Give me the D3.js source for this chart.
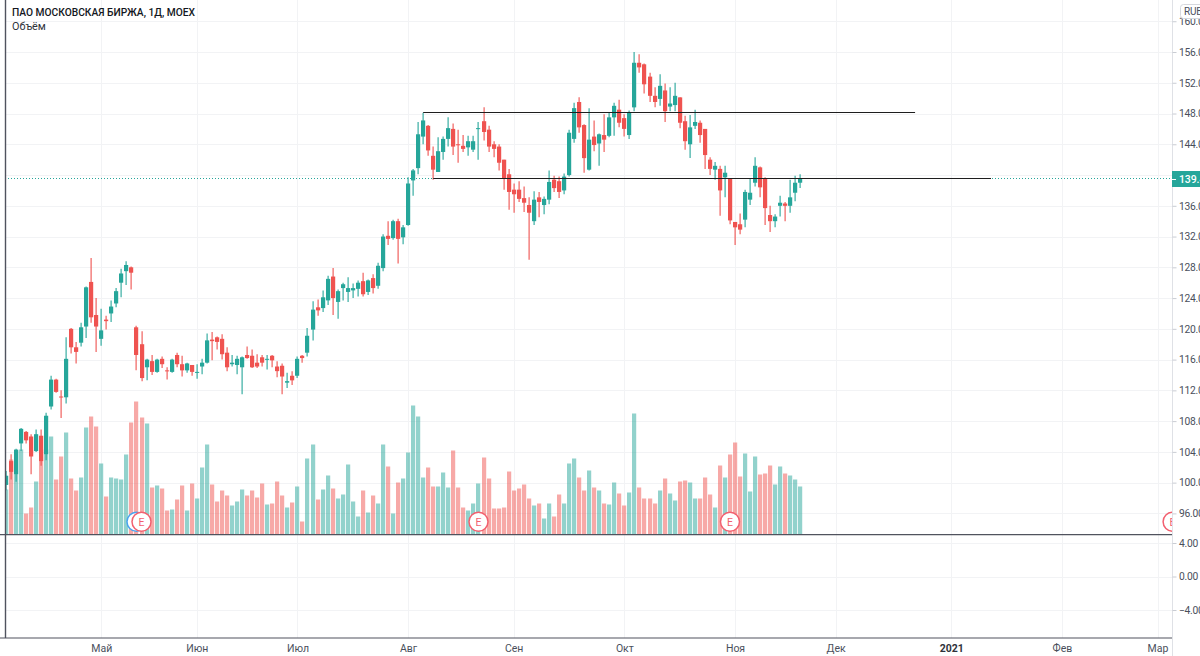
<!DOCTYPE html>
<html><head><meta charset="utf-8">
<script src="https://cdnjs.cloudflare.com/ajax/libs/d3/7.8.5/d3.min.js"></script>
<style>
html,body{margin:0;padding:0;background:#fff;overflow:hidden}
svg{display:block}
text{font-family:Roboto,sans-serif}
</style></head><body><div id="c"></div>
<script>
const opens=[99.7,102.8,101.1,105.1,106.6,106.0,104.1,106.1,103.7,109.9,
113.4,111.2,111.1,120.0,117.6,118.2,120.3,126.1,121.8,118.7,
121.2,122.0,123.3,126.0,127.5,128.0,120.2,118.0,115.0,115.8,
114.4,116.1,114.6,114.4,116.6,115.4,114.6,115.3,114.3,115.1,
115.6,118.6,118.9,118.7,116.9,115.4,115.3,115.0,116.6,116.5,
115.6,116.3,116.0,116.5,115.1,115.2,113.0,113.9,113.9,116.5,
116.9,119.9,122.8,122.7,123.7,126.8,123.5,125.3,124.8,125.0,
125.2,126.2,124.8,126.6,125.6,127.9,132.1,131.8,134.0,131.9,
133.5,139.3,140.9,145.0,146.4,142.5,140.4,143.0,144.7,146.0,
144.0,143.8,143.6,143.3,146.0,147.0,145.9,144.0,143.7,142.0,
140.1,138.1,138.1,137.0,136.1,134.0,137.1,136.1,136.8,139.4,
139.2,138.0,140.0,144.7,149.5,146.5,140.7,145.0,144.1,145.2,
145.1,147.5,148.5,147.4,145.2,148.8,154.6,154.4,152.8,150.3,
149.9,151.0,148.9,149.1,150.1,147.0,144.0,146.4,146.8,146.0,
142.0,140.7,140.8,139.7,139.6,133.9,133.6,134.2,136.8,139.0,
141.0,139.5,134.8,134.0,136.0,136.3,136.0,137.7,139.0];
const highs=[101.5,103.7,104.4,107.1,106.7,106.3,106.9,106.9,109.1,113.9,
113.5,112.0,118.9,120.1,118.3,120.8,125.5,129.2,124.0,122.6,
121.7,123.7,125.3,127.8,128.8,128.1,120.4,119.7,116.1,116.6,
116.1,116.4,115.0,116.1,116.9,116.5,115.6,115.3,115.4,116.1,
119.4,119.6,119.0,119.3,117.6,116.6,116.5,116.4,117.7,117.3,
116.7,116.6,116.6,116.6,115.8,115.5,114.3,114.5,116.4,116.6,
120.1,123.6,123.8,125.0,126.9,127.9,125.1,126.0,126.7,125.9,
126.3,127.3,126.4,127.1,128.6,132.3,134.0,134.2,134.3,133.5,
139.7,140.8,146.9,148.1,146.5,143.7,144.9,145.0,147.5,146.7,
145.9,145.2,145.1,145.1,146.9,148.8,146.4,144.4,144.0,142.0,
140.8,138.9,139.2,138.5,137.1,137.9,137.8,137.2,140.6,139.9,
139.8,140.2,145.9,149.4,150.1,146.6,148.7,147.1,145.4,147.9,
148.2,149.4,149.8,147.9,148.4,156.0,155.7,154.5,153.3,151.4,
153.1,151.9,151.4,152.0,150.1,147.7,147.8,148.5,147.1,146.0,
142.3,141.7,141.2,141.2,139.6,133.9,135.0,138.1,139.6,142.3,
141.1,139.7,136.0,134.9,137.3,136.5,139.4,139.9,140.1];
const lows=[99.0,100.4,100.1,104.1,105.1,101.1,104.0,102.2,102.9,109.5,
111.7,108.4,110.3,116.8,115.5,117.7,118.8,120.8,117.0,117.8,
119.9,120.9,122.8,124.1,125.7,125.1,114.6,113.2,113.3,114.0,
114.3,114.9,113.4,114.3,115.0,113.8,114.3,113.9,113.5,114.1,
115.5,115.9,117.3,116.0,114.5,115.1,114.1,111.5,116.1,114.9,
114.9,115.1,114.7,115.0,113.7,111.5,112.3,112.7,113.6,115.6,
116.4,118.5,121.7,122.2,123.1,121.8,121.3,123.7,123.5,124.0,
124.2,124.2,124.4,124.6,125.2,127.5,130.9,131.6,128.5,131.0,
133.4,137.3,140.1,144.0,142.5,139.4,140.4,142.0,143.7,142.6,
141.6,143.0,142.5,143.0,142.0,144.5,143.0,142.3,140.6,138.1,
135.5,135.1,136.5,135.2,129.0,133.5,134.5,134.9,136.2,137.8,
137.0,137.5,139.8,144.2,145.5,140.3,140.6,143.1,141.2,143.0,
144.9,145.1,146.2,145.0,144.7,148.3,153.3,150.6,149.5,148.8,
149.0,146.9,148.3,148.3,146.1,143.3,142.2,146.0,144.2,140.8,
140.0,139.4,134.7,137.1,133.6,130.9,132.3,133.2,136.1,138.5,
137.1,133.5,132.6,133.2,134.6,134.0,135.1,136.6,138.3];
const closes=[100.9,101.4,104.3,107.0,105.5,103.4,106.3,102.8,108.7,113.4,
111.8,111.1,116.1,117.6,117.0,120.2,125.4,121.5,120.3,119.8,
121.0,122.9,124.9,127.2,128.3,127.3,116.6,113.6,116.0,114.4,
116.0,115.4,114.5,116.0,115.4,114.6,115.5,114.4,114.4,115.6,
118.5,118.4,118.3,116.7,115.0,115.6,116.1,116.3,116.2,115.0,
115.1,115.6,116.1,115.9,114.5,113.8,113.2,113.3,116.1,116.2,
119.1,122.5,122.4,124.1,126.5,124.0,124.9,125.8,125.3,125.3,
126.0,124.5,126.3,125.3,128.2,132.0,131.7,134.0,131.7,133.2,
138.9,140.6,145.3,147.1,143.2,140.7,143.1,144.7,146.1,143.7,
143.9,143.4,144.4,144.4,146.1,145.6,143.7,143.4,141.6,139.5,
137.8,137.5,136.9,136.4,135.1,136.8,136.5,136.9,139.1,138.3,
137.8,139.8,145.5,148.7,146.2,142.2,144.6,143.9,145.3,144.6,
147.5,149.0,146.8,146.0,148.2,154.6,154.0,151.8,150.3,149.5,
151.6,148.3,149.3,150.3,146.8,144.4,146.2,146.9,145.2,142.6,
140.8,141.2,138.0,140.3,134.1,133.2,132.9,137.8,137.7,141.2,
138.4,135.7,134.0,134.6,136.4,136.0,137.1,139.0,139.5];
const volumes=[45,75,84,85,21,27,53,85,85,98,
55,78,102,56,44,57,107,118,108,71,
38,57,56,55,80,112,133,117,111,47,
49,46,24,25,35,49,24,51,36,67,
90,50,33,44,39,29,33,45,39,44,
37,51,30,31,53,39,27,32,48,13,
76,90,35,45,59,46,36,40,70,33,
18,44,22,39,31,90,68,21,52,56,
82,129,118,57,67,48,48,62,47,84,
47,27,24,31,51,77,56,26,26,27,
63,44,46,50,36,29,31,16,31,18,
40,31,71,76,57,44,64,47,44,31,
30,52,41,29,42,121,47,36,36,31,
44,56,41,34,53,54,52,36,36,57,
40,27,69,57,80,92,58,81,43,78,
60,61,69,50,68,61,59,55,48];
const priceTicks=[160,156,152,148,144,136,132,128,124,120,116,112,108,104,100,96];
const priceGrid=[160,156,152,148,144,140,136,132,128,124,120,116,112,108,104,100,96];
const indicatorTicks=[4,0,-4];
const monthLabels=["Май","Июн","Июл","Авг","Сен","Окт","Ноя","Дек","2021","Фев","Мар"];
const monthBars=[19,38,58,80,101,123,145,165,188,210,229];
const earningsBars=[27,94,144,232];
const dividendBars=[26];
const trendLines=[{from:83,to:180.8,price:148.15},{from:85,to:195.9,price:139.6}];
const lastPrice=139.4;
const title="ПАО МОСКОВСКАЯ БИРЖА, 1Д, MOEX";
const volumeTitle="Объём";

const W=1200,H=656,L=5,R=1172,T=0,PB=534.5,IB=638;
const UP="#26a69a",DN="#ef5350",GRID="#f2f3f5",TXT="#4a4f5c",DARK="#50535e";
const svg=d3.select("#c").append("svg").attr("width",W).attr("height",H);
const x=d3.scaleLinear().domain([0,158]).range([5.7,800.4]);
const y=d3.scaleLinear().domain([156,96]).range([52,513.4]);
const v=d3.scaleLinear().domain([0,133]).range([PB,PB-133]);
const yi=d3.scaleLinear().domain([4,-4]).range([543,610]);
const px=p=>Math.round(p)+.5;
svg.append("defs").append("clipPath").attr("id","pane").append("rect").attr("x",L).attr("y",T).attr("width",R-L).attr("height",PB-T);

// grid
const g=svg.append("g").attr("stroke",GRID).attr("stroke-width",1);
g.selectAll(".v").data(monthBars).join("line").attr("x1",d=>px(x(d))).attr("x2",d=>px(x(d))).attr("y1",0).attr("y2",IB);
g.selectAll(".h").data(priceGrid).join("line").attr("x1",L).attr("x2",R).attr("y1",d=>px(y(d))).attr("y2",d=>px(y(d)));
g.selectAll(".i").data(indicatorTicks).join("line").attr("x1",L).attr("x2",R).attr("y1",d=>px(yi(d))).attr("y2",d=>px(yi(d)));

const pane=svg.append("g").attr("clip-path","url(#pane)");
const idx=d3.range(opens.length);
const col=i=>closes[i]>=opens[i]?UP:DN;
// volume
pane.append("g").selectAll("rect").data(idx).join("rect")
 .attr("x",i=>Math.round(x(i))-2).attr("width",4.2)
 .attr("y",i=>v(volumes[i])).attr("height",i=>PB-v(volumes[i]))
 .attr("fill",col).attr("fill-opacity",.5);
// dotted last price line
const lastY=Math.floor(y(lastPrice)-1)+.5;
svg.append("line").attr("x1",L).attr("x2",R).attr("y1",lastY).attr("y2",lastY)
 .attr("stroke",UP).attr("stroke-dasharray","1 2").attr("stroke-width",1);
// candles
const cg=pane.append("g");
cg.selectAll(".w").data(idx).join("line")
 .attr("x1",i=>Math.round(x(i))+.1).attr("x2",i=>Math.round(x(i))+.1)
 .attr("y1",i=>y(highs[i])).attr("y2",i=>y(lows[i]))
 .attr("stroke",col).attr("stroke-width",1.1);
cg.selectAll(".b").data(idx).join("rect")
 .attr("x",i=>Math.round(x(i))-2).attr("width",4.2)
 .attr("y",i=>y(Math.max(opens[i],closes[i])))
 .attr("height",i=>Math.max(1,Math.abs(y(opens[i])-y(closes[i]))))
 .attr("fill",col);
// trend lines
svg.append("g").selectAll("line").data(trendLines).join("line")
 .attr("x1",d=>x(d.from)).attr("x2",d=>x(d.to)).attr("y1",d=>Math.round(y(d.price))+.5).attr("y2",d=>Math.round(y(d.price))+.5)
 .attr("stroke","#1e1e1e").attr("stroke-width",1);
// earnings bubbles
const bubble=(data,stroke,label)=>{
 const e=pane.append("g").selectAll("g").data(data).join("g").attr("transform",d=>`translate(${x(d)},521.7)`);
 e.append("circle").attr("r",9.5).attr("fill","#fff").attr("stroke",stroke).attr("stroke-width",1.5);
 if(label)e.append("text").attr("text-anchor","middle").attr("dy",3.8).attr("font-size",10.5).attr("fill",stroke).text(label);
};
bubble(dividendBars,"#4aa3f0","");
bubble(earningsBars,"#f2606f","E");

// structural lines
const s=svg.append("g").attr("stroke",DARK);
s.append("line").attr("x1",L+.5).attr("x2",L+.5).attr("y1",0).attr("y2",IB).attr("stroke-width",1.4);
s.append("line").attr("x1",0).attr("x2",R).attr("y1",PB+.2).attr("y2",PB+.2).attr("stroke-width",1.2);
s.append("line").attr("x1",0).attr("x2",R).attr("y1",IB).attr("y2",IB).attr("stroke-width",1.2);
svg.append("line").attr("x1",R+.5).attr("x2",R+.5).attr("y1",0).attr("y2",H).attr("stroke","#dfe1e6");

// axes
const styleAxis=(sel,size,ls)=>{sel.select(".domain").remove();sel.selectAll("line").attr("stroke","#c9ccd3");
 sel.selectAll("text").attr("fill",TXT).attr("font-size",size).attr("letter-spacing",ls).attr("font-family","Roboto,sans-serif");};
const fmt=d=>d3.format(".2f")(d).replace("-","−");
svg.append("g").attr("transform",`translate(${R+.5},0)`)
 .call(d3.axisRight(y).tickValues(priceTicks).tickSize(4).tickPadding(2.5).tickFormat(fmt)).call(styleAxis,10.3,-.3);
svg.append("g").attr("transform",`translate(${R+.5},0)`)
 .call(d3.axisRight(yi).tickValues(indicatorTicks).tickSize(4).tickPadding(2.5).tickFormat(fmt)).call(styleAxis,10.3,-.3);
const xAxis=svg.append("g").attr("transform",`translate(0,${IB+4})`)
 .call(d3.axisBottom(x).tickValues(monthBars).tickSize(0).tickPadding(3).tickFormat((d,i)=>monthLabels[i])).call(styleAxis,10.5,0);
xAxis.selectAll("text").filter(t=>t===188).attr("font-weight",700).attr("fill","#2f323a");

// RUB badge
svg.append("rect").attr("x",1180.5).attr("y",4.5).attr("width",30).attr("height",14).attr("rx",3).attr("fill","#fff").attr("stroke","#d6d8dd");
svg.append("text").attr("x",1184).attr("y",15).attr("font-size",10).attr("letter-spacing",-.2).attr("fill",TXT).text("RUB");
// last price tag
svg.append("rect").attr("x",R).attr("y",171).attr("width",W-R).attr("height",16).attr("fill",UP);
svg.append("line").attr("x1",R).attr("x2",R+4).attr("y1",179.5).attr("y2",179.5).attr("stroke","#fff");
svg.append("text").attr("x",1179).attr("y",183).attr("font-size",10.5).attr("font-weight",500).attr("letter-spacing",-.1).attr("fill","#fff").text(d3.format(".2f")(lastPrice));
// titles
svg.append("text").attr("x",12).attr("y",16).attr("font-size",11.5).attr("font-weight",500).attr("fill","#131722").attr("textLength",183).attr("lengthAdjust","spacingAndGlyphs").text(title);
svg.append("text").attr("x",12).attr("y",30).attr("font-size",10.8).attr("fill","#2f323a").text(volumeTitle);
</script></body></html>
